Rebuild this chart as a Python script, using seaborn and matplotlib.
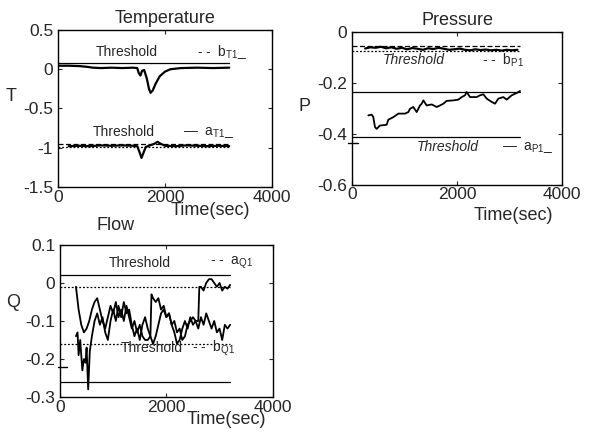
import numpy as np
import pandas as pd
import matplotlib
matplotlib.use("Agg")
import matplotlib.pyplot as plt
import seaborn as sns

sns.set_style("ticks")
plt.rcParams['font.family'] = ['Liberation Sans', 'DejaVu Sans']
plt.rcParams['axes.unicode_minus'] = False
plt.rcParams['mathtext.fontset'] = 'custom'
plt.rcParams['mathtext.rm'] = 'Liberation Sans'
plt.rcParams['mathtext.it'] = 'Liberation Sans:italic'

# ---------------- Temperature ----------------
temp_t_upper = [0, 200, 400, 550, 650, 800, 1000, 1200, 1400, 1480, 1510, 1540, 1570, 1610, 1660,
                1700, 1730, 1770, 1820, 1900, 2000, 2100, 2300, 2600, 2900, 3200]
temp_v_upper = [0.045, 0.045, 0.04, 0.03, 0.02, 0.015, 0.02, 0.015, 0.02, 0.015, -0.05, -0.08, -0.02, -0.01, -0.12,
                -0.25, -0.30, -0.27, -0.19, -0.09, -0.03, 0.0, 0.015, 0.02, 0.015, 0.02]
temp_t_lower = [200, 400, 600, 800, 1000, 1200, 1400, 1480, 1520, 1560, 1600, 1640, 1700, 1800, 1860,
                1920, 2000, 2200, 2400, 2600, 2800, 3000, 3200]
temp_v_lower = [-0.98, -0.975, -0.98, -0.97, -0.975, -0.97, -0.975, -0.98, -1.05, -1.13, -1.06, -0.99, -0.975,
                -0.95, -0.925, -0.95, -0.975, -0.98, -0.97, -0.975, -0.98, -0.975, -0.98]
temp_thr_solid = [0.08]
temp_thr_dashed = [-0.95]
temp_thr_dotted = [-0.99]

# ---------------- Pressure ----------------
pres_t_upper = [250, 350, 450, 550, 650, 750, 850, 950, 1050, 1150, 1250, 1350, 1450, 1550, 1650, 1750,
                1850, 1950, 2050, 2150, 2250, 2350, 2450, 2550, 2650, 2750, 2850, 2950, 3050, 3150]
pres_v_upper = [-0.065, -0.06, -0.062, -0.058, -0.064, -0.06, -0.066, -0.062, -0.068, -0.063, -0.066, -0.07,
                -0.064, -0.067, -0.062, -0.066, -0.07, -0.068, -0.065, -0.07, -0.072, -0.068, -0.071, -0.069,
                -0.072, -0.07, -0.073, -0.07, -0.072, -0.07]
pres_t_lower = [311, 375, 406, 438, 470, 533, 660, 692, 787, 883, 1010, 1073, 1105, 1168, 1232, 1295, 1327,
                1359, 1422, 1518, 1613, 1676, 1740, 1803, 1930, 2026, 2089, 2153, 2184, 2248, 2375, 2438,
                2502, 2565, 2661, 2724, 2788, 2883, 2946, 3042, 3137, 3200]
pres_v_lower = [-0.328, -0.325, -0.335, -0.374, -0.381, -0.368, -0.365, -0.345, -0.335, -0.321, -0.321,
                -0.315, -0.302, -0.295, -0.315, -0.289, -0.282, -0.269, -0.289, -0.285, -0.295, -0.289,
                -0.282, -0.271, -0.269, -0.266, -0.256, -0.249, -0.236, -0.256, -0.256, -0.249, -0.245,
                -0.262, -0.275, -0.282, -0.262, -0.256, -0.266, -0.249, -0.240, -0.232]
pres_thr_dashed = [-0.055]
pres_thr_dotted = [-0.075]
pres_thr_solid = [-0.235, -0.415]
pres_mark = [-0.437]

# ---------------- Flow ----------------
flow_t_a = [300, 350, 400, 450, 500, 550, 600, 650, 700, 750, 800, 850, 900, 950, 1000, 1050, 1100, 1150,
            1200, 1250, 1300, 1350, 1400, 1450, 1500, 1550, 1600, 1650, 1700, 1720, 1750, 1800, 1850, 1900,
            1950, 2000, 2050, 2100, 2150, 2200, 2250, 2300, 2350, 2400, 2450, 2500, 2550, 2600, 2620, 2650,
            2700, 2750, 2800, 2850, 2900, 2950, 3000, 3050, 3100, 3150, 3200]
flow_v_a = [-0.01, -0.07, -0.11, -0.13, -0.12, -0.10, -0.07, -0.05, -0.04, -0.07, -0.10, -0.12, -0.09, -0.06,
            -0.08, -0.05, -0.09, -0.07, -0.10, -0.06, -0.09, -0.12, -0.10, -0.13, -0.11, -0.14, -0.15, -0.15,
            -0.14, -0.03, -0.04, -0.05, -0.04, -0.07, -0.06, -0.09, -0.08, -0.11, -0.10, -0.13, -0.12, -0.15,
            -0.14, -0.11, -0.10, -0.09, -0.10, -0.10, -0.01, -0.01, -0.02, 0.0, 0.01, 0.01, 0.0, -0.01, 0.0,
            -0.02, -0.01, -0.015, -0.005]
flow_t_b = [300, 330, 350, 380, 420, 450, 480, 500, 530, 560, 600, 650, 700, 750, 800, 850, 900, 950, 1000,
            1050, 1100, 1150, 1200, 1250, 1300, 1350, 1400, 1450, 1500, 1550, 1600, 1650, 1700, 1750, 1800,
            1850, 1900, 1950, 2000, 2050, 2100, 2150, 2200, 2250, 2300, 2350, 2400, 2450, 2500, 2550, 2600,
            2650, 2700, 2750, 2800, 2850, 2900, 2950, 3000, 3050, 3100, 3150, 3200]
flow_v_b = [-0.14, -0.13, -0.19, -0.15, -0.23, -0.20, -0.21, -0.17, -0.28, -0.18, -0.14, -0.10, -0.08, -0.11,
            -0.09, -0.13, -0.15, -0.10, -0.07, -0.10, -0.06, -0.09, -0.05, -0.08, -0.07, -0.11, -0.14, -0.12,
            -0.15, -0.11, -0.09, -0.12, -0.14, -0.16, -0.14, -0.11, -0.08, -0.07, -0.09, -0.08, -0.11, -0.13,
            -0.16, -0.15, -0.12, -0.10, -0.12, -0.09, -0.11, -0.10, -0.12, -0.09, -0.11, -0.08, -0.10, -0.12,
            -0.10, -0.13, -0.12, -0.15, -0.11, -0.12, -0.11]
flow_thr_solid = [0.02, -0.26]
flow_thr_dotted = [-0.01, -0.16]
flow_mark = [-0.22]

thr_span = [0, 3200]
x_ticks = [0, 2000, 4000]
x_tick_labels = ["0", "2000", "4000"]

TICK_FS = 12.5
LAB_FS = 13
ANN_FS = 10

fig = plt.figure(figsize=(5.97, 4.41), dpi=100)
ax_t = fig.add_axes([0.0972, 0.576, 0.3585, 0.356])
ax_p = fig.add_axes([0.5896, 0.5816, 0.3518, 0.3458])
ax_q = fig.add_axes([0.1005, 0.0998, 0.3563, 0.3447])


def hline(ax, val, ls, lw=0.9):
    sns.lineplot(x=thr_span, y=[val, val], ax=ax, color='black', linestyle=ls, linewidth=lw,
                 estimator=None, legend=False)


def series(ax, t, v, lw=1.6):
    sns.lineplot(x=t, y=v, ax=ax, color='black', linewidth=lw, estimator=None, sort=False, legend=False)


def style(ax, ylim, yticks, ylabels, ylab, ylab_xy, xlab_xy):
    ax.set_xlim(0, 4000)
    ax.set_ylim(*ylim)
    ax.set_xticks(x_ticks)
    ax.set_xticklabels(x_tick_labels, fontsize=TICK_FS)
    ax.set_yticks(yticks)
    ax.set_yticklabels(ylabels, fontsize=TICK_FS)
    ax.tick_params(direction='in', top=True, right=True, length=3, width=0.8)
    ax.tick_params(axis='x', pad=2)
    ax.tick_params(axis='y', pad=3.5)
    for s in ax.spines.values():
        s.set_visible(True)
        s.set_linewidth(1.0)
        s.set_color('black')
    ax.set_ylabel(ylab, rotation=0, fontsize=LAB_FS, ha='center', va='center')
    ax.yaxis.set_label_coords(*ylab_xy)
    ax.set_xlabel("Time(sec)", fontsize=LAB_FS, ha='center', va='center')
    ax.xaxis.set_label_coords(*xlab_xy)


# Temperature
hline(ax_t, temp_thr_solid[0], '-')
hline(ax_t, temp_thr_dashed[0], (0, (4, 2)))
hline(ax_t, temp_thr_dotted[0], (0, (1.5, 1.5)))
series(ax_t, temp_t_upper, temp_v_upper)
series(ax_t, temp_t_lower, temp_v_lower)
ax_t.text(1290, 0.22, "Threshold", fontsize=ANN_FS, ha='center', va='center')
ax_t.text(2600, 0.22, r"- -  b$_{\rm T1}$_", fontsize=ANN_FS, ha='left', va='center')
ax_t.text(1230, -0.80, "Threshold", fontsize=ANN_FS, ha='center', va='center')
ax_t.text(2340, -0.80, r"—  a$_{\rm T1}$_", fontsize=ANN_FS, ha='left', va='center')
ax_t.set_title("Temperature", fontsize=LAB_FS, pad=5)
style(ax_t, (-1.5, 0.5), [0.5, 0, -0.5, -1, -1.5], ["0.5", "0", "-0.5", "-1", "-1.5"], "T",
      (-0.22, 0.575), (0.71, -0.15))

# Pressure
hline(ax_p, pres_thr_dashed[0], (0, (4, 2)))
hline(ax_p, pres_thr_dotted[0], (0, (1.5, 1.5)))
hline(ax_p, pres_thr_solid[0], '-')
hline(ax_p, pres_thr_solid[1], '-')
series(ax_p, pres_t_upper, pres_v_upper)
series(ax_p, pres_t_lower, pres_v_lower, lw=1.3)
sns.lineplot(x=[-80, 120], y=[pres_mark[0], pres_mark[0]], ax=ax_p, color='black', linewidth=1.0,
             estimator=None, legend=False).lines[-1].set_clip_on(False)
ax_p.text(1168, -0.11, "Threshold", fontsize=ANN_FS, style='italic', ha='center', va='center')
ax_p.text(2470, -0.11, r"- -  b$_{\rm P1}$", fontsize=ANN_FS, ha='left', va='center')
ax_p.text(1819, -0.453, "Threshold", fontsize=ANN_FS, style='italic', ha='center', va='center')
ax_p.text(2850, -0.453, r"—  a$_{\rm P1}$_", fontsize=ANN_FS, ha='left', va='center')
ax_p.set_title("Pressure", fontsize=LAB_FS, pad=5)
style(ax_p, (-0.6, 0), [0, -0.2, -0.4, -0.6], ["0", "-0.2", "-0.4", "-0.6"], "P",
      (-0.224, 0.51), (0.77, -0.2))

# Flow
hline(ax_q, flow_thr_solid[0], '-')
hline(ax_q, flow_thr_solid[1], '-')
hline(ax_q, flow_thr_dotted[0], (0, (1.5, 1.5)))
hline(ax_q, flow_thr_dotted[1], (0, (1.5, 1.5)))
series(ax_q, flow_t_a, flow_v_a, lw=1.3)
series(ax_q, flow_t_b, flow_v_b, lw=1.3)
sns.lineplot(x=[-40, 130], y=[flow_mark[0], flow_mark[0]], ax=ax_q, color='black', linewidth=1.0,
             estimator=None, legend=False).lines[-1].set_clip_on(False)
ax_q.text(1505, 0.052, "Threshold", fontsize=ANN_FS, ha='center', va='center')
ax_q.text(2820, 0.052, r"- -  a$_{\rm Q1}$", fontsize=ANN_FS, ha='left', va='center')
ax_q.text(1724, -0.172, "Threshold", fontsize=ANN_FS, ha='center', va='center')
ax_q.text(2477, -0.172, r"- -  b$_{\rm Q1}$", fontsize=ANN_FS, ha='left', va='center')
ax_q.text(0.17, 1.13, "Flow", fontsize=LAB_FS, ha='left', va='center', transform=ax_q.transAxes)
style(ax_q, (-0.3, 0.1), [0.1, 0, -0.1, -0.2, -0.3], ["0.1", "0", "-0.1", "-0.2", "-0.3"], "Q",
      (-0.22, 0.62), (0.78, -0.15))

fig.savefig("out.png", dpi=100)
